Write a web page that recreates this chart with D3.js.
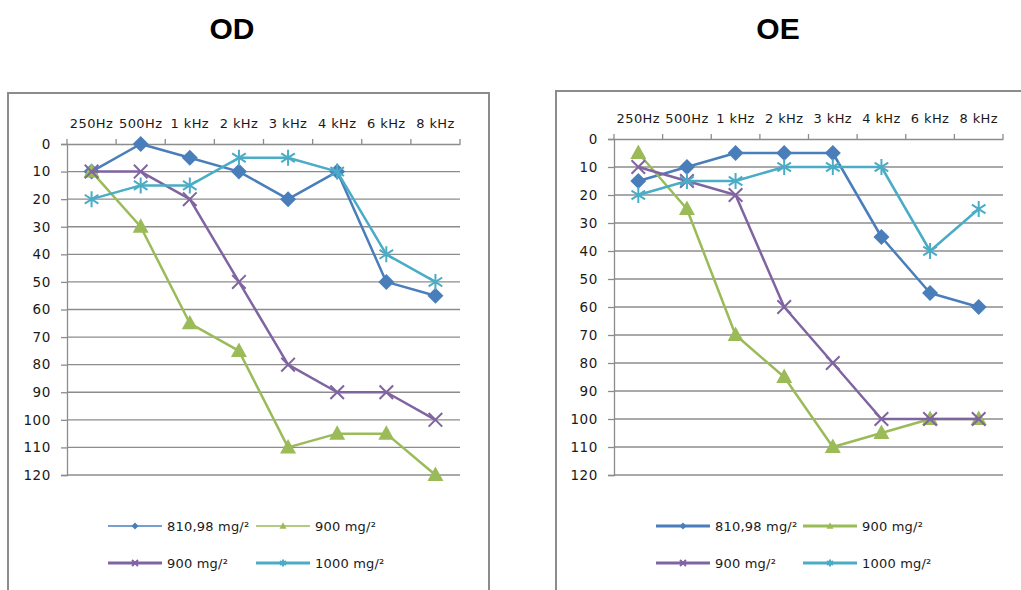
<!DOCTYPE html>
<html>
<head>
<meta charset="utf-8">
<script src="https://cdn.jsdelivr.net/npm/d3@7"></script>
<style>
  html, body { margin: 0; padding: 0; background: #fff; }
  svg { display: block; }
</style>
</head>
<body>
<svg id="chart" width="1021" height="590"></svg>
<script>
// Audiogram categories and hearing levels (dB)
const frequencies = ["250Hz", "500Hz", "1 kHz", "2 kHz", "3 kHz", "4 kHz", "6 kHz", "8 kHz"];
const levelTicks = [0, 10, 20, 30, 40, 50, 60, 70, 80, 90, 100, 110, 120];
const seriesNames = ["810,98 mg/²", "900 mg/²", "900 mg/²", "1000 mg/²"];
const seriesColors = ["#4a7ebb", "#9bbb59", "#8064a2", "#4bacc6"];
const seriesMarkers = ["diamond", "triangle", "cross", "star"];

// Right ear (OD)
const odDose81098 = [10, 0, 5, 10, 20, 10, 50, 55];
const odDose900a  = [10, 30, 65, 75, 110, 105, 105, 120];
const odDose900b  = [10, 10, 20, 50, 80, 90, 90, 100];
const odDose1000  = [20, 15, 15, 5, 5, 10, 40, 50];

// Left ear (OE)
const oeDose81098 = [15, 10, 5, 5, 5, 35, 55, 60];
const oeDose900a  = [5, 25, 70, 85, 110, 105, 100, 100];
const oeDose900b  = [10, 15, 20, 60, 80, 100, 100, 100];
const oeDose1000  = [20, 15, 15, 10, 10, 10, 40, 25];

const svg = d3.select("#chart");
const FONT = "'DejaVu Sans', sans-serif";

function drawMarker(g, type, color, size) {
  const s = size;
  if (type === "diamond") {
    g.append("path").attr("d", `M0,${-s}L${s},0L0,${s}L${-s},0Z`).attr("fill", color);
  } else if (type === "triangle") {
    g.append("path").attr("d", `M0,${-s * 1.05}L${s},${s * 0.75}L${-s},${s * 0.75}Z`).attr("fill", color);
  } else if (type === "cross") {
    const c = s * 0.85;
    g.append("path").attr("d", `M${-c},${-c}L${c},${c}M${-c},${c}L${c},${-c}`)
      .attr("stroke", color).attr("stroke-width", 2).attr("fill", "none");
  } else if (type === "star") {
    const c = s * 0.85;
    g.append("path").attr("d", `M0,${-s}L0,${s}M${-c},${-c * 0.65}L${c},${c * 0.65}M${-c},${c * 0.65}L${c},${-c * 0.65}`)
      .attr("stroke", color).attr("stroke-width", 2).attr("fill", "none");
  }
}

function drawPanel(cfg) {
  const root = svg.append("g");

  // Panel title
  root.append("text")
    .attr("x", cfg.titleX).attr("y", 39)
    .attr("text-anchor", "middle")
    .attr("font-family", "'Liberation Sans', Arial, sans-serif")
    .attr("font-weight", "bold").attr("font-size", 30)
    .attr("fill", "#000")
    .text(cfg.title);

  // Chart frame
  root.append("rect")
    .attr("x", cfg.frame[0]).attr("y", cfg.frame[1])
    .attr("width", cfg.frame[2]).attr("height", cfg.frame[3])
    .attr("fill", "#fff").attr("stroke", "#8c8c8c").attr("stroke-width", 2);

  const x = d3.scaleBand().domain(frequencies).range([cfg.left, cfg.right]);
  const y = d3.scaleLinear().domain([0, 120]).range([cfg.top, cfg.bottom]);

  // Horizontal gridlines
  root.append("g").selectAll("line").data(levelTicks.slice(1)).join("line")
    .attr("x1", cfg.left).attr("x2", cfg.right)
    .attr("y1", d => y(d)).attr("y2", d => y(d))
    .attr("stroke", "#8c8c8c").attr("stroke-width", 1.3);

  // Category axis on top
  const xAxis = root.append("g").attr("transform", `translate(0,${cfg.top})`)
    .call(d3.axisTop(x).tickSize(0).tickPadding(16));
  xAxis.select(".domain").attr("stroke", "#8c8c8c").attr("stroke-width", 1.3);
  xAxis.selectAll("text").attr("font-family", FONT).attr("font-size", 13)
    .attr("fill", "#1a1a1a").attr("letter-spacing", 0.4);
  // tick marks at band boundaries
  const bounds = frequencies.map(f => x(f)).concat([cfg.right]);
  root.append("g").selectAll("line").data(bounds).join("line")
    .attr("x1", d => d).attr("x2", d => d)
    .attr("y1", cfg.top).attr("y2", cfg.top - 5)
    .attr("stroke", "#8c8c8c").attr("stroke-width", 1.3);

  // Level axis on the left
  const yAxis = root.append("g").attr("transform", `translate(${cfg.left},0)`)
    .call(d3.axisLeft(y).tickValues(levelTicks).tickSize(6).tickPadding(10));
  yAxis.select(".domain").attr("stroke", "#8c8c8c").attr("stroke-width", 1.3);
  yAxis.selectAll(".tick line").attr("stroke", "#8c8c8c").attr("stroke-width", 1.3);
  yAxis.selectAll("text").attr("font-family", FONT).attr("font-size", 13.5)
    .attr("fill", "#1a1a1a").attr("letter-spacing", 0.6);

  const line = d3.line()
    .x((d, i) => x(frequencies[i]) + x.bandwidth() / 2)
    .y(d => y(d));

  cfg.series.forEach((vals, si) => {
    const color = seriesColors[si];
    root.append("path").datum(vals)
      .attr("d", line).attr("fill", "none")
      .attr("stroke", color).attr("stroke-width", 2.5)
      .attr("stroke-linejoin", "round");
    vals.forEach((v, i) => {
      const g = root.append("g")
        .attr("transform", `translate(${x(frequencies[i]) + x.bandwidth() / 2},${y(v)})`);
      drawMarker(g, seriesMarkers[si], color, 8);
    });
  });

  // Legend: two rows of two entries
  cfg.legend.forEach((pos, si) => {
    const color = seriesColors[si];
    const g = root.append("g").attr("transform", `translate(${pos[0]},${pos[1]})`);
    g.append("line").attr("x1", 0).attr("x2", 54).attr("y1", 0).attr("y2", 0)
      .attr("stroke", color).attr("stroke-width", pos[2]);
    const m = g.append("g").attr("transform", "translate(27,0)");
    drawMarker(m, seriesMarkers[si], color, 3.5);
    g.append("text").attr("x", 59).attr("y", 0).attr("dy", "0.35em")
      .attr("font-family", FONT).attr("font-size", 13)
      .attr("fill", "#1a1a1a").attr("letter-spacing", 0.2)
      .text(seriesNames[si]);
  });
}

drawPanel({
  title: "OD", titleX: 232,
  frame: [8, 93, 481, 520],
  left: 67, right: 460, top: 144, bottom: 475,
  series: [odDose81098, odDose900a, odDose900b, odDose1000],
  legend: [[108, 526, 1.5], [256, 526, 1.5], [108, 563, 3], [256, 563, 3]]
});

drawPanel({
  title: "OE", titleX: 778,
  frame: [556, 91, 480, 520],
  left: 614, right: 1003, top: 139, bottom: 475,
  series: [oeDose81098, oeDose900a, oeDose900b, oeDose1000],
  legend: [[656, 526, 3], [803, 526, 3], [656, 563, 3], [803, 563, 3]]
});
</script>
</body>
</html>
